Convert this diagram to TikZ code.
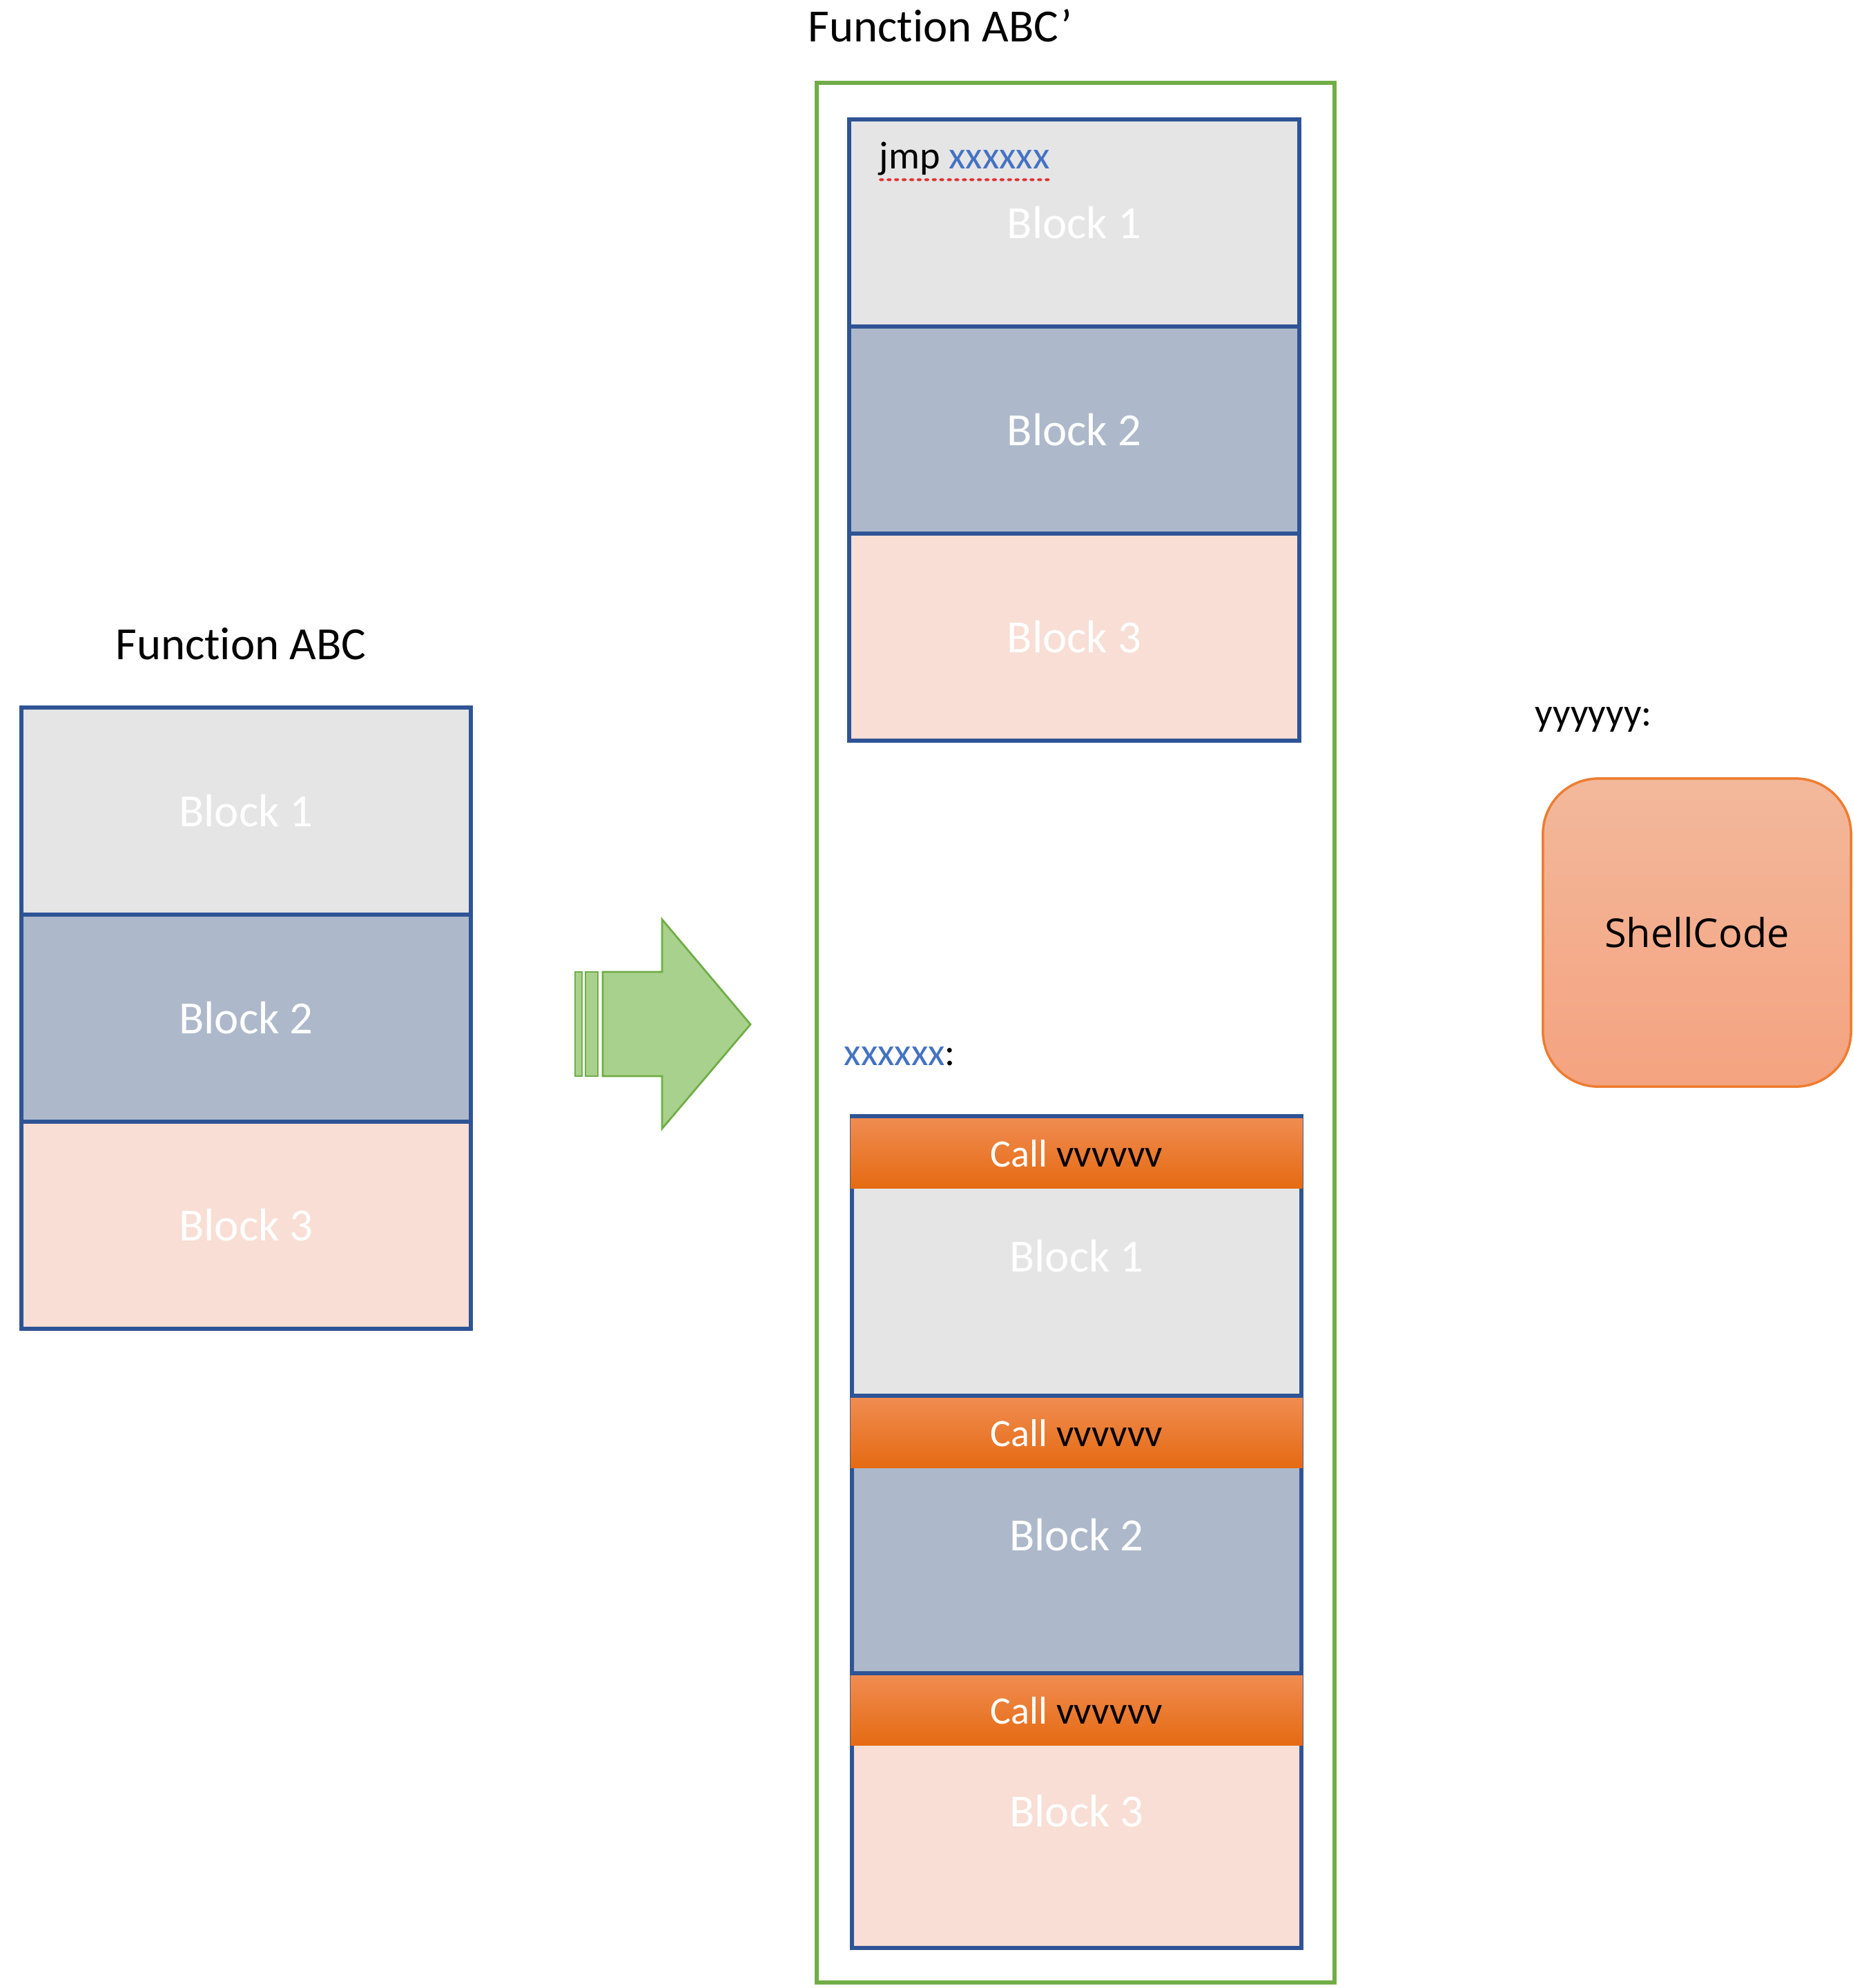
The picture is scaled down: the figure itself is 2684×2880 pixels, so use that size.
\documentclass[tikz,border=0pt]{standalone}
\usepackage{fontspec}
\setmainfont[Ligatures=NoCommon]{Carlito}
\newfontfamily\shellfont{Open Sans}
\definecolor{bborder}{HTML}{2F5496}
\definecolor{gfill}{HTML}{E5E5E5}
\definecolor{bfill}{HTML}{ADB9CA}
\definecolor{pfill}{HTML}{F8DED5}
\definecolor{gline}{HTML}{70AD47}
\definecolor{afill}{HTML}{A9D18E}
\definecolor{calltop}{HTML}{F08C50}
\definecolor{callbot}{HTML}{E56A12}
\definecolor{shtop}{HTML}{F3B89B}
\definecolor{shbot}{HTML}{F4A380}
\definecolor{shline}{HTML}{ED7D31}
\definecolor{xblue}{HTML}{4472C4}
\definecolor{squig}{HTML}{E03030}
\begin{document}
\begin{tikzpicture}[x=0.01cm,y=-0.01cm,
  blk/.style={draw=bborder, line width=1.7pt, inner sep=0pt, minimum width=6.51cm, minimum height=3cm, text=white, font=\fontsize{19}{22}\selectfont},
  bone/.style={blk, fill=gfill},
  btwo/.style={blk, fill=bfill},
  bthree/.style={blk, fill=pfill},
  callbar/.style={inner sep=0pt, minimum width=6.55cm, minimum height=1.01cm, top color=calltop, bottom color=callbot, font=\fontsize{16}{19}\selectfont},
  title/.style={font=\fontsize{19}{22}\selectfont, inner sep=0pt},
  lbl/.style={font=\fontsize{16}{19}\selectfont, inner sep=0pt, anchor=base west},
  arr/.style={draw=gline, fill=afill, line width=0.8pt, line join=miter}
]
\useasboundingbox (0,0) rectangle (2684,2880);

% Left: Function ABC
\node[title] (t1) at (349,933) {Function ABC};
\node[bone]   (l1) at (356.5,1175) {Block 1};
\node[btwo]   (l2) at (356.5,1475) {Block 2};
\node[bthree] (l3) at (356.5,1775) {Block 3};

% Arrow
\draw[arr] (833,1408) rectangle (843,1559);
\draw[arr] (848,1408) rectangle (866,1559);
\draw[arr] (873,1408) -- (959,1408) -- (959,1332) -- (1087,1484) -- (959,1635) -- (959,1559) -- (873,1559) -- cycle;

% Middle: Function ABC'
\node[title] (t2) at (1362,37) {Function ABC’};
\node[draw=gline, line width=1.7pt, minimum width=7.5cm, minimum height=27.5cm, inner sep=0pt] (green) at (1558,1496) {};

\node[bone]   (u1) at (1556,323) {Block 1};
\node[btwo]   (u2) at (1556,623) {Block 2};
\node[bthree] (u3) at (1556,923) {Block 3};
\node[lbl] (jmp) at (1273,244) {jmp \textcolor{xblue}{xxxxxx}};
\draw[squig, line width=1.1pt, dotted, line cap=round] (jmp.south west) ++(2,6) coordinate (sq1) -- ([yshift=-1.7pt]jmp.south east);

\node[lbl] (xlab) at (1222,1543) {\textcolor{xblue}{xxxxxx}:};

\node[bone,   minimum height=4.05cm] (d1) at (1559.5,1819.5) {Block 1};
\node[btwo,   minimum height=4.02cm] (d2) at (1559.5,2223) {Block 2};
\node[bthree, minimum height=3.98cm] (d3) at (1559.5,2623) {Block 3};
\node[callbar] (c1) at (1559.5,1671) {\textcolor{white}{Call} vvvvvv};
\node[callbar] (c2) at (1559.5,2076) {\textcolor{white}{Call} vvvvvv};
\node[callbar] (c3) at (1559.5,2478) {\textcolor{white}{Call} vvvvvv};

% Right: shellcode
\node[lbl] (ylab) at (2223,1051) {yyyyyy:};
\node[draw=shline, line width=1pt, rounded corners=0.8cm, top color=shtop, bottom color=shbot, minimum width=4.46cm, minimum height=4.46cm, inner sep=0pt, font=\shellfont\fontsize{16.4}{20}\selectfont] (shell) at (2458,1351) {ShellCode};
\end{tikzpicture}
\end{document}
